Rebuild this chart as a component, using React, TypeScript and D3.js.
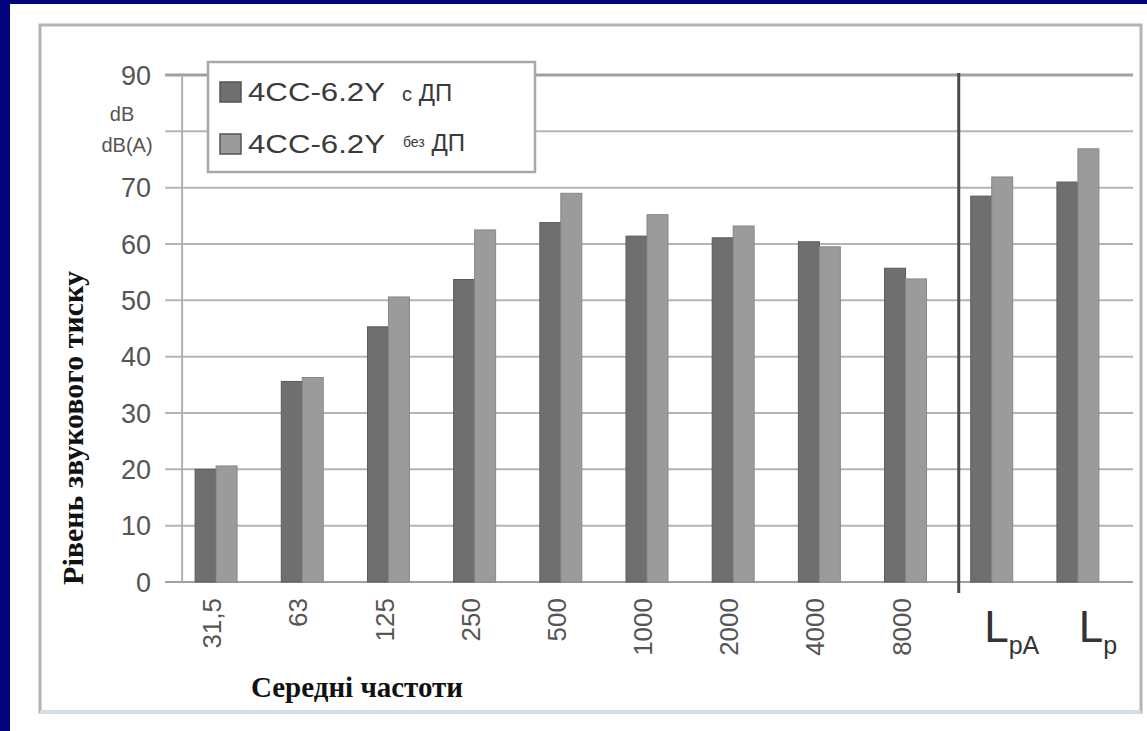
import React from "react";
import * as d3 from "d3";

// Octave-band centre frequencies plus the two overall levels
const categories = ["31,5", "63", "125", "250", "500", "1000", "2000", "4000", "8000", "LpA", "Lp"];
const seriesNames = ["4CC-6.2Y с ДП", "4CC-6.2Y без ДП"];
// Sound pressure levels, dB / dB(A)
const withDP = [20.0, 35.6, 45.3, 53.7, 63.8, 61.4, 61.1, 60.4, 55.7, 68.5, 71.0];
const withoutDP = [20.6, 36.3, 50.6, 62.5, 69.0, 65.2, 63.2, 59.5, 53.8, 71.9, 76.9];
const yTicks = [0, 10, 20, 30, 40, 50, 60, 70, 80, 90];

const W = 1147;
const H = 731;
const NAVY = "#03037e";
const DARK = "#6f6f6f";
const LIGHT = "#9b9b9b";
const TICK = "#555555";

export default function App() {
  const x = d3
    .scaleBand<string>()
    .domain(categories)
    .range([173, 1121])
    .paddingInner(0.513)
    .paddingOuter(0.2565);
  const bw = x.bandwidth();
  const sub = d3.scaleBand<number>().domain([0, 1]).range([0, bw]).padding(0);
  const y = d3.scaleLinear().domain([0, 90]).range([582, 75]);

  const axisX = (x(categories[0]) as number) - 13;
  const sepX = (x("LpA") as number) - 12;
  const gridLeft = axisX - 17;
  const gridRight = 1133;

  const rows = categories.map((c, i) => ({ c, vals: [withDP[i], withoutDP[i]] }));
  const colors = [DARK, LIGHT];
  const strokes = ["#5a5a5a", "#888888"];

  return (
    <svg
      width={W}
      height={H}
      style={{ position: "fixed", left: 0, top: 0, display: "block" }}
      fontFamily="'Liberation Sans', Arial, sans-serif"
    >
      <rect x={0} y={0} width={W} height={H} fill="#ffffff" />
      <rect x={0} y={0} width={10} height={H} fill={NAVY} />
      <rect x={0} y={0} width={W} height={4} fill={NAVY} />

      {/* chart frame */}
      <rect x={40} y={25} width={1101} height={687} fill="none" stroke="#b4b4b4" strokeWidth={3} />
      <line x1={40} x2={1141} y1={712} y2={712} stroke="#d4e0e8" strokeWidth={3} />

      {/* gridlines */}
      {yTicks.map((t) => (
        <line
          key={t}
          x1={gridLeft}
          x2={gridRight}
          y1={y(t)}
          y2={y(t)}
          stroke={t === 90 || t === 0 ? "#a0a0a0" : "#b4b4b4"}
          strokeWidth={t === 90 ? 3 : 2}
        />
      ))}
      <line x1={axisX} x2={axisX} y1={y(90)} y2={y(0)} stroke="#b0b0b0" strokeWidth={2} />

      {/* bars */}
      {rows.map((r) =>
        r.vals.map((v, j) => (
          <rect
            key={r.c + j}
            x={(x(r.c) as number) + (sub(j) as number)}
            y={y(v)}
            width={sub.bandwidth()}
            height={y(0) - y(v)}
            fill={colors[j]}
            stroke={strokes[j]}
            strokeWidth={1}
          />
        ))
      )}

      {/* separator between octave bands and overall levels */}
      <line x1={sepX} x2={sepX} y1={y(90) - 2} y2={y(0) + 11} stroke="#4a4a4a" strokeWidth={3} />

      {/* y tick labels */}
      {yTicks
        .filter((t) => t !== 80)
        .map((t) => (
          <text
            key={t}
            x={151}
            y={y(t)}
            dy="0.36em"
            textAnchor="end"
            fontSize={27}
            fill={TICK}
          >
            {t}
          </text>
        ))}
      <text x={122} y={y(80) - 10} textAnchor="middle" fontSize={20} fill={TICK}>
        dB
      </text>
      <text x={127} y={y(80) + 21} textAnchor="middle" fontSize={20} fill={TICK}>
        dB(A)
      </text>

      {/* x tick labels */}
      {categories.slice(0, 9).map((c) => {
        const cx = (x(c) as number) + bw / 2 - 4;
        return (
          <text
            key={c}
            transform={`translate(${cx},598) rotate(-90)`}
            dy="0.35em"
            textAnchor="end"
            fontSize={26}
            fill={TICK}
          >
            {c}
          </text>
        );
      })}
      {["LpA", "Lp"].map((c) => {
        const cx = (x(c) as number) + bw / 2 + 20;
        return (
          <text key={c} x={cx} y={642} textAnchor="middle" fill="#333333" fontSize={44}>
            L
            <tspan fontSize={25} dy={12}>
              {c.slice(1)}
            </tspan>
          </text>
        );
      })}

      {/* axis titles */}
      <text
        transform={`translate(83,428) rotate(-90)`}
        textAnchor="middle"
        fontFamily="'Liberation Serif', 'Times New Roman', serif"
        fontWeight="bold"
        fontSize={30}
        fill="#111"
      >
        Рівень звукового тиску
      </text>
      <text
        x={357}
        y={697}
        textAnchor="middle"
        fontFamily="'Liberation Serif', 'Times New Roman', serif"
        fontWeight="bold"
        fontSize={29}
        fill="#111"
      >
        Середні частоти
      </text>

      {/* legend */}
      <rect x={208} y={62} width={327} height={110} fill="#ffffff" stroke="#a8a8a8" strokeWidth={2.5} />
      {seriesNames.map((name, j) => {
        const ly = 82 + j * 52;
        const suffix = name.replace("4CC-6.2Y ", "");
        const [small, big] = suffix.split(" ");
        return (
          <g key={name}>
            <rect x={220} y={ly} width={21} height={20} fill={colors[j]} stroke="#555" strokeWidth={1.5} />
            <text x={248} y={ly + 19} fontSize={26} fill="#3a3a3a" textLength={137} lengthAdjust="spacingAndGlyphs">
              4CC-6.2Y
            </text>
            {j === 0 ? (
              <text x={402} y={ly + 19} fontSize={24} fill="#3a3a3a">
                <tspan fontSize={20}>{small}</tspan> {big}
              </text>
            ) : (
              <text x={403} y={ly + 17} fontSize={24} fill="#3a3a3a">
                <tspan fontSize={14} dy={-4}>{small}</tspan>
                <tspan dy={4}> {big}</tspan>
              </text>
            )}
          </g>
        );
      })}
    </svg>
  );
}
